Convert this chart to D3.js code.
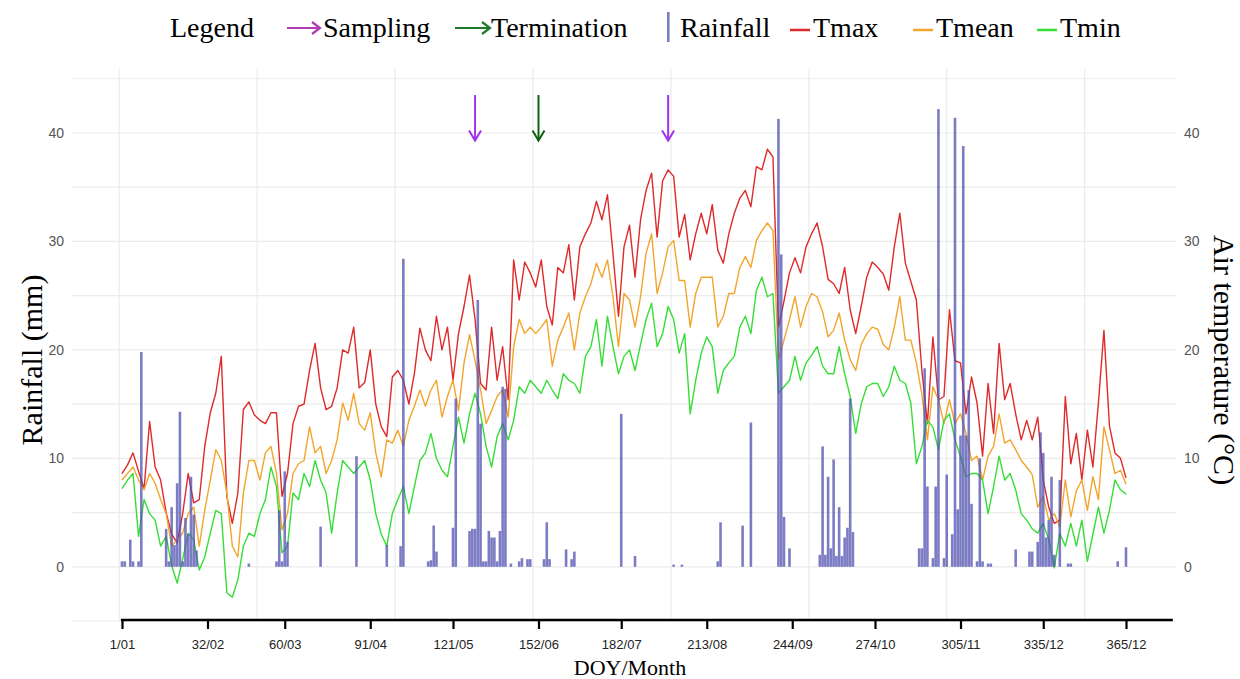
<!DOCTYPE html>
<html>
<head>
<meta charset="utf-8">
<script src="https://cdn.jsdelivr.net/npm/d3@7"></script>
<style>
  body { margin: 0; background: #fff; }
  svg { display: block; }
</style>
</head>
<body>
<script>
// daily values read every second day (DOY 1, 3, 5 ... 365)
const doy = d3.range(1, 366, 2);

const tmax = [8.6,9.4,10.5,8.8,7.2,13.4,9.2,8.0,5.0,3.0,
  2.2,4.9,8.6,5.9,6.2,11.1,14.2,16.0,19.4,6.5,
  4.0,6.8,14.5,15.2,14.0,13.5,13.2,14.2,14.2,6.5,
  8.6,13.2,14.8,15.0,18.1,20.6,16.5,14.5,14.8,16.5,
  20.0,19.7,22.1,16.5,17.0,20.0,15.0,12.9,12.0,17.5,
  18.1,17.2,15.0,17.8,22.0,20.0,19.0,23.1,20.0,22.1,
  17.2,21.5,24.0,26.9,22.8,16.9,16.3,22.1,17.2,20.3,
  15.4,28.3,24.6,28.1,27.1,25.8,28.3,24.0,22.3,27.6,
  27.1,29.7,24.6,29.5,30.7,31.7,33.7,32.0,34.3,28.9,
  23.1,29.5,31.5,26.7,32.0,34.7,36.3,30.4,35.6,36.6,
  36.0,30.4,32.5,28.3,30.7,32.6,30.7,33.4,29.2,28.0,
  30.7,32.6,34.0,34.7,33.2,36.9,36.6,38.5,37.8,22.1,
  24.5,27.1,28.5,27.1,29.5,30.7,31.7,29.5,26.5,26.1,
  25.2,27.6,23.7,21.5,24.0,26.7,28.1,27.6,27.0,25.5,
  29.5,32.6,28.0,26.3,24.6,18.1,13.2,21.2,15.4,15.7,
  23.7,19.0,18.8,14.1,17.5,15.1,10.2,16.9,12.3,20.6,
  15.4,16.9,14.1,11.7,13.5,11.7,13.8,8.0,5.5,4.0,
  4.3,15.7,9.5,12.3,8.0,12.6,9.2,15.1,21.8,13.0,
  10.5,10.0,8.2];

const tmean = [8.0,8.6,9.2,8.0,7.1,8.6,7.7,6.2,4.9,1.9,
  2.5,3.1,4.9,5.5,1.9,5.2,8.0,10.8,9.8,6.8,
  1.9,0.9,6.8,9.8,9.8,8.0,10.5,11.1,8.6,3.4,
  4.9,8.6,9.5,9.8,12.9,10.5,11.1,8.6,9.8,11.7,
  15.1,13.5,16.0,13.2,12.6,14.2,10.5,8.3,11.7,11.4,
  12.6,11.1,13.5,14.8,16.3,14.8,16.3,17.2,13.8,15.7,
  17.2,14.4,18.8,21.4,19.0,16.3,13.2,14.4,15.7,16.3,
  13.8,20.3,22.8,21.5,22.1,21.5,22.1,22.8,18.5,20.9,
  22.1,23.4,20.0,23.4,24.9,26.1,28.0,26.7,28.3,24.9,
  20.3,25.2,24.6,22.1,24.9,28.9,30.7,25.2,27.1,29.5,
  30.1,26.4,26.4,22.1,25.2,26.7,26.7,26.7,22.1,23.1,
  25.2,25.2,27.6,28.6,27.6,30.1,31.0,31.7,31.0,19.1,
  20.9,22.8,24.9,22.1,24.0,25.2,24.9,23.5,21.2,21.8,
  23.4,20.9,19.1,18.1,20.5,21.5,22.1,21.9,20.5,20.0,
  22.1,24.9,20.9,20.9,18.8,15.9,11.7,16.6,15.4,13.2,
  15.4,13.2,14.1,12.3,9.8,10.2,8.0,10.2,11.1,14.1,
  11.4,11.7,10.8,9.8,9.2,8.5,5.5,6.5,4.3,4.9,
  3.7,8.0,4.6,7.0,8.0,5.2,8.3,6.2,12.9,10.8,
  8.6,8.9,7.6];

const tmin = [7.2,8.0,8.6,2.8,6.2,4.9,4.3,1.9,2.8,0.1,
  -1.5,0.7,3.1,2.5,-0.3,0.9,3.1,5.2,4.9,-2.4,
  -2.8,-1.2,1.9,3.1,2.8,4.9,6.2,9.2,7.4,1.3,
  1.9,6.8,6.2,8.6,7.4,9.8,8.0,6.8,3.1,6.8,
  9.8,9.2,8.6,9.2,9.8,8.0,4.9,3.0,1.9,4.9,
  6.2,7.4,4.9,7.4,9.8,10.5,12.3,10.0,8.9,8.3,
  11.1,13.8,11.4,14.1,16.0,14.1,11.1,9.2,12.0,13.2,
  11.7,13.5,16.6,16.0,17.2,16.6,16.0,17.2,16.3,15.5,
  17.8,17.2,16.9,16.0,19.4,20.3,22.8,18.5,23.1,20.3,
  17.8,19.4,20.0,18.1,20.5,22.8,24.3,20.3,21.5,24.0,
  22.8,19.7,21.5,14.1,17.2,19.7,21.2,20.3,16.0,18.1,
  18.8,19.4,22.1,23.1,21.5,25.5,26.7,24.9,25.2,16.0,
  16.6,17.2,19.4,17.2,18.8,19.5,20.3,18.5,17.8,17.8,
  20.3,17.8,15.7,12.3,15.0,16.6,16.9,16.9,15.7,16.6,
  18.5,17.2,16.9,15.1,9.5,11.1,13.5,12.9,10.8,13.5,
  14.1,11.7,10.2,8.3,8.6,8.6,8.0,4.9,7.4,10.2,
  8.0,8.6,7.1,4.9,4.3,3.5,3.1,4.0,2.5,-0.1,
  3.1,1.9,4.0,1.9,4.3,0.5,3.0,5.5,3.1,5.2,
  8.0,7.1,6.7];

// rainy days and rainfall (mm)
const rainDoy = [1,2,4,5,7,8,
  17,18,19,20,21,22,23,24,25,26,27,28,
  47, 57,58,59,60,61, 73, 86, 97, 102,103,
  112,113,114,115, 121,122,
  127,128,129,130,131,132,133,134,135,136,137,138,139,140,
  142,145,146,148,149, 154,155,156, 162,164,165,
  182, 187, 201,204, 217,218, 226,229,
  239,240,241,243,
  254,255,256,257,258,259,260,261,262,263,264,265,266,
  290,291,292,293,295,296,297,299,300,302,303,304,305,306,307,308,309,311,312,313,315,316,
  325, 330,331,
  333,334,335,336,337,338,339,341,
  344,345, 362,365];
const rainMm = [0.5,0.5,2.5,0.5,0.5,19.8,
  3.5,0.5,5.5,2.0,7.7,14.3,0.5,4.5,3.0,8.3,4.8,1.5,
  0.3, 0.5,5.2,0.5,8.8,2.3, 3.7, 10.2, 2.0, 1.9,28.4,
  0.5,0.6,3.8,1.4, 3.6,15.5,
  3.3,3.5,3.5,24.6,13.2,0.5,0.5,3.3,2.7,2.7,0.5,3.3,16.6,16.4,
  0.3,0.5,0.8,0.7,0.7, 0.7,4.1,0.7, 1.6,0.7,1.4,
  14.1, 1.0, 0.2,0.2, 0.5,4.1, 3.8,13.3,
  41.3,28.8,4.6,1.7,
  1.1,11.1,1.1,8.3,1.7,9.9,1.0,5.5,1.0,2.7,3.6,15.5,3.2,
  1.7,1.7,18.3,7.4,0.8,7.4,42.2,0.8,8.5,3.0,41.4,5.3,12.1,38.8,12.1,16.3,5.8,0.5,10.0,0.5,0.3,0.3,
  1.6, 1.4,1.4,
  2.3,12.4,10.5,2.7,4.3,8.3,1.1,8.0,
  0.3,0.3, 0.5,1.8];

const tickDoy = [1,32,60,91,121,152,182,213,244,274,305,335,365];
const tickLabels = ['1/01','32/02','60/03','91/04','121/05','152/06','182/07','213/08','244/09','274/10','305/11','335/12','365/12'];
const yTicks = [0,10,20,30,40];

const samplingDoy = [129, 199];
const terminationDoy = [152];
const arrowTop = 43.5, arrowTip = 39.3;

const serif = '"Liberation Serif", "Times New Roman", serif';
const sans = '"Liberation Sans", Arial, sans-serif';

const colors = {
  rain: '#5050b0',
  tmax: '#de2a2a',
  tmean: '#f2a52c',
  tmin: '#36dd36',
  sampling: '#a034e8',
  termination: '#0d630d'
};

const width = 1240, height = 679;

const x = d3.scaleLinear().domain([-17.13, 383.13]).range([72, 1176]);
const y = d3.scaleLinear().domain([-5, 45.9]).range([621, 69]);

const svg = d3.select('body').append('svg')
  .attr('width', width)
  .attr('height', height);

// grid
const grid = svg.append('g');
grid.selectAll('line.v')
  .data(d3.range(0, 351, 50))
  .enter().append('line')
  .attr('x1', d => x(d)).attr('x2', d => x(d))
  .attr('y1', y.range()[1]).attr('y2', y.range()[0])
  .attr('stroke', '#ebebeb').attr('stroke-width', 1.2);
grid.selectAll('line.h')
  .data(d3.range(-5, 46, 5))
  .enter().append('line')
  .attr('x1', x.range()[0]).attr('x2', x.range()[1])
  .attr('y1', d => y(d)).attr('y2', d => y(d))
  .attr('stroke', '#ebebeb').attr('stroke-width', 1.2);

// temperature lines
const line = d3.line()
  .x((d, i) => x(doy[i]))
  .y(d => y(d));

[['tmax', tmax], ['tmean', tmean], ['tmin', tmin]].forEach(([key, vals]) => {
  svg.append('path')
    .datum(vals)
    .attr('d', line)
    .attr('fill', 'none')
    .attr('stroke', colors[key])
    .attr('stroke-width', 1.4)
    .attr('stroke-linejoin', 'round');
});

// rainfall bars
svg.append('g')
  .selectAll('rect')
  .data(rainDoy)
  .enter().append('rect')
  .attr('x', d => x(d) - 1.3)
  .attr('width', 2.6)
  .attr('y', (d, i) => y(rainMm[i]))
  .attr('height', (d, i) => y(0) - y(rainMm[i]))
  .attr('fill', colors.rain)
  .attr('fill-opacity', 0.75);

// arrows above the plot
function downArrow(g, d, color) {
  const ax = x(d);
  g.append('line')
    .attr('x1', ax).attr('x2', ax)
    .attr('y1', y(arrowTop)).attr('y2', y(arrowTip))
    .attr('stroke', color).attr('stroke-width', 2);
  g.append('path')
    .attr('d', `M${ax - 6},${y(arrowTip) - 10}L${ax},${y(arrowTip)}L${ax + 6},${y(arrowTip) - 10}`)
    .attr('fill', 'none').attr('stroke', color).attr('stroke-width', 2);
}
const arrows = svg.append('g');
samplingDoy.forEach(d => downArrow(arrows, d, colors.sampling));
terminationDoy.forEach(d => downArrow(arrows, d, colors.termination));

// y axes
const yLeft = svg.append('g')
  .attr('transform', `translate(${x.range()[0]},0)`)
  .call(d3.axisLeft(y).tickValues(yTicks).tickSize(0).tickPadding(8));
const yRight = svg.append('g')
  .attr('transform', `translate(${x.range()[1]},0)`)
  .call(d3.axisRight(y).tickValues(yTicks).tickSize(0).tickPadding(8));
[yLeft, yRight].forEach(g => {
  g.select('.domain').remove();
  g.selectAll('text')
    .style('font-family', sans)
    .style('font-size', '14px')
    .attr('fill', '#555');
});

// x axis
const xAxis = svg.append('g')
  .attr('transform', `translate(0,${y(-5) - 1})`)
  .call(d3.axisBottom(x)
    .tickValues(tickDoy)
    .tickFormat((d, i) => tickLabels[i])
    .tickSize(9)
    .tickPadding(11));
xAxis.select('.domain').remove();
xAxis.selectAll('line').attr('stroke', '#000').attr('stroke-width', 2.2);
xAxis.selectAll('text')
  .style('font-family', sans)
  .style('font-size', '13px')
  .attr('fill', '#222');
xAxis.append('line')
  .attr('x1', x(0.6)).attr('x2', x(382))
  .attr('y1', 0).attr('y2', 0)
  .attr('stroke', '#000').attr('stroke-width', 2.5);

// axis titles
svg.append('text')
  .attr('transform', 'translate(42,360) rotate(-90)')
  .attr('text-anchor', 'middle')
  .style('font-family', serif)
  .style('font-size', '30px')
  .text('Rainfall (mm)');

svg.append('text')
  .attr('transform', 'translate(1214,360) rotate(90)')
  .attr('text-anchor', 'middle')
  .style('font-family', serif)
  .style('font-size', '30px')
  .text('Air temperature (°C)');

svg.append('text')
  .attr('x', 630).attr('y', 675)
  .attr('text-anchor', 'middle')
  .style('font-family', serif)
  .style('font-size', '22px')
  .text('DOY/Month');

// legend
const leg = svg.append('g')
  .style('font-family', serif)
  .style('font-size', '28px');
const ly = 37, lm = 28;

leg.append('text').attr('x', 170).attr('y', ly).text('Legend');

function rightArrow(x0, x1, color) {
  leg.append('line')
    .attr('x1', x0).attr('x2', x1).attr('y1', lm).attr('y2', lm)
    .attr('stroke', color).attr('stroke-width', 2.2);
  leg.append('path')
    .attr('d', `M${x1 - 8},${lm - 6}L${x1},${lm}L${x1 - 8},${lm + 6}`)
    .attr('fill', 'none').attr('stroke', color).attr('stroke-width', 2.2);
}
rightArrow(287, 320, '#b03cb4');
leg.append('text').attr('x', 323).attr('y', ly).text('Sampling');
rightArrow(455, 490, '#1f7a2a');
leg.append('text').attr('x', 491).attr('y', ly).text('Termination');

leg.append('rect')
  .attr('x', 667).attr('y', 12).attr('width', 2.6).attr('height', 30)
  .attr('fill', colors.rain).attr('fill-opacity', 0.75);
leg.append('text').attr('x', 680).attr('y', ly).text('Rainfall');

[['tmax', 790, 'Tmax'], ['tmean', 913, 'Tmean'], ['tmin', 1037, 'Tmin']].forEach(([key, lx, label]) => {
  leg.append('line')
    .attr('x1', lx).attr('x2', lx + 20).attr('y1', lm + 2).attr('y2', lm + 2)
    .attr('stroke', colors[key]).attr('stroke-width', 2.5);
  leg.append('text').attr('x', lx + 23).attr('y', ly).text(label);
});
</script>
</body>
</html>
